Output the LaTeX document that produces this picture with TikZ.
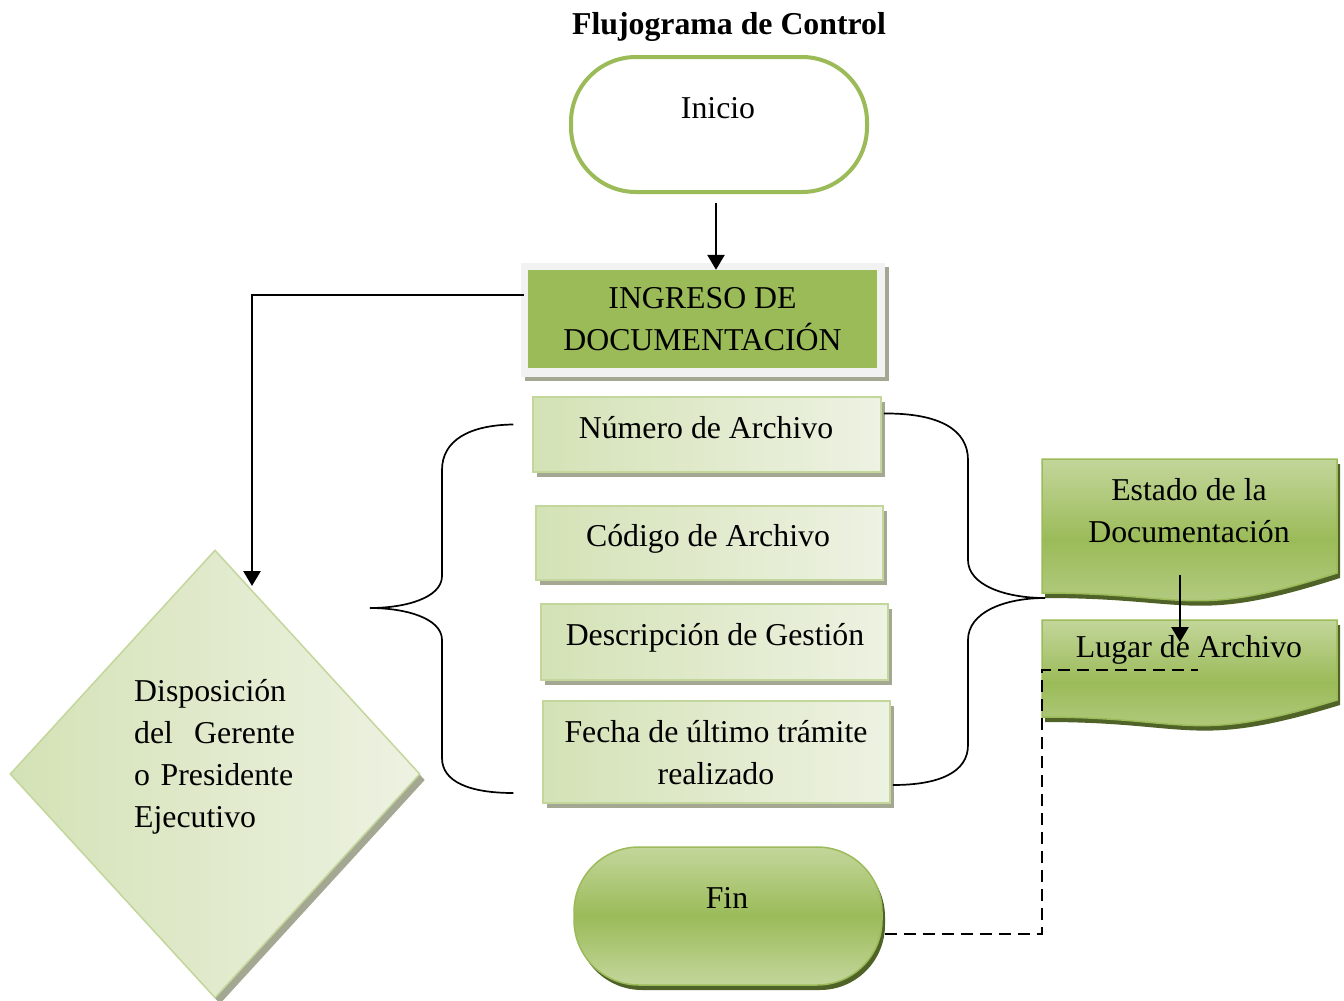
\documentclass[tikz,border=0pt]{standalone}
\usepackage{fontspec}
\setmainfont{Liberation Serif}
\usetikzlibrary{shapes.geometric,shadows,calc,arrows.meta}

\definecolor{gMain}{HTML}{9BBB59}
\definecolor{gLight}{HTML}{C3D69B}
\definecolor{gPale}{HTML}{D4E2B6}
\definecolor{gPaler}{HTML}{EDF2E2}
\definecolor{gDark}{HTML}{4F6228}
\definecolor{shGray}{HTML}{A4A893}
\definecolor{frameGray}{HTML}{F2F2F2}

\tikzset{
  big/.style={font=\fontsize{31.8}{42}\selectfont},
  txt/.style={big, inner sep=0pt, align=center},
  arr/.style={line width=2.7pt, -{Triangle[length=15pt,width=17pt]}},
  hline/.style={line width=1.7pt},
  brace/.style={line width=1.7pt},
  link/.style={line width=2pt, dash pattern=on 12pt off 7pt},
  field/.style={rectangle, draw=gLight, line width=1.5pt, left color=gPale, right color=gPaler,
    minimum height=75pt, inner sep=0pt,
    drop shadow={shadow xshift=4pt, shadow yshift=-5pt, fill=shGray, opacity=1}},
  terminal/.style={rectangle, rounded corners=65pt, inner sep=0pt},
  docfill/.style={top color=gLight, bottom color=gLight!75!gMain, middle color=gMain},
  docline/.style={draw=gMain, line width=1.5pt},
}

\begin{document}
\begin{tikzpicture}[x=1pt, y=-1pt]
\useasboundingbox (0,0) rectangle (1344,1001);

% title
\node[txt, font=\fontsize{31.8}{42}\selectfont\bfseries] (title) at (729,27) {Flujograma de Control};

% start terminal
\node[terminal, draw=gMain, line width=4pt, fill=white, minimum width=296pt, minimum height=135pt] (inicio) at (719,124.5) {};
\node[txt] (inicioT) at (718,108) {Inicio};

% document intake box: light frame with green panel
\node[rectangle, fill=frameGray, minimum width=364pt, minimum height=114pt, inner sep=0pt,
  drop shadow={shadow xshift=4pt, shadow yshift=-4pt, fill=shGray, opacity=1}] (ingreso) at (703,320) {};
\node[rectangle, fill=gMain, minimum width=349pt, minimum height=98pt, inner sep=0pt, txt] (ingresoIn) at (702.5,319) {INGRESO DE\\DOCUMENTACIÓN};

% record fields
\node[field, minimum width=348pt] (f1) at (707,434.5) {};
\node[field, minimum width=347pt, minimum height=74pt] (f2) at (709.5,543) {};
\node[field, minimum width=347pt, minimum height=76pt] (f3) at (714.5,642) {};
\node[field, minimum width=347pt, minimum height=102pt] (f4) at (716.5,752) {};
\node[txt] (f1T) at (706,428) {Número de Archivo};
\node[txt] (f2T) at (708,539) {Código de Archivo};
\node[txt] (f3T) at (715,638) {Descripción de Gestión};
\node[txt] (f4T) at (716,753) {Fecha de último trámite\\realizado};

% decision diamond
\node[diamond, draw=gLight, line width=1.5pt, left color=gPale, right color=gPaler,
  minimum width=410pt, minimum height=448pt, inner sep=0pt,
  drop shadow={shadow xshift=5pt, shadow yshift=-6pt, fill=shGray, opacity=1}] (disp) at (215,774) {};
\node[big, anchor=west, inner sep=0pt, text width=167pt, align=left] (dispT) at (134,757)
  {Disposición\\\makebox[167pt][s]{del\ \ Gerente}\\\makebox[167pt][s]{o Presidente}\\Ejecutivo};

% end terminal
\node[terminal, draw=gMain, line width=1.5pt, top color=gLight, bottom color=gLight, middle color=gMain,
  minimum width=308pt, minimum height=138pt,
  drop shadow={shadow xshift=3pt, shadow yshift=-5pt, fill=gDark, opacity=1}] (fin) at (728,916) {};
\node[txt] (finT) at (727,898) {Fin};

% document shapes on the right
\fill[gDark, xshift=3pt, yshift=-5pt] (1042,459) -- (1337,459) -- (1337,573) .. controls (1190,620) and (1190,593) .. (1042,593) -- cycle;
\shade[docfill] (1042,459) -- (1337,459) -- (1337,573) .. controls (1190,620) and (1190,593) .. (1042,593) -- cycle;
\draw[docline] (1042,459) -- (1337,459) -- (1337,573) .. controls (1190,620) and (1190,593) .. (1042,593) -- cycle;
\node[txt] (estadoT) at (1189,511) {Estado de la\\Documentación};

\fill[gDark, xshift=3pt, yshift=-5pt] (1042,620) -- (1337,620) -- (1337,700) .. controls (1190,745) and (1190,717) .. (1042,717) -- cycle;
\shade[docfill] (1042,620) -- (1337,620) -- (1337,700) .. controls (1190,745) and (1190,717) .. (1042,717) -- cycle;
\draw[docline] (1042,620) -- (1337,620) -- (1337,700) .. controls (1190,745) and (1190,717) .. (1042,717) -- cycle;
\node[txt] (lugarT) at (1189,650) {Lugar de Archivo};

% braces grouping the fields
\draw[brace] ($(f1.west)+(-19,-10)$) .. controls (470,425) and (442,440) .. (442,470) -- (442,576)
  .. controls (442,598) and (405,608) .. (370,608) coordinate (braceL)
  .. controls (405,608) and (442,618) .. (442,640) -- (442,758)
  .. controls (442,782) and (470,793) .. ($(f4.west)+(-29,41)$);
\draw[brace] ($(f1.east)+(2,-21)$) .. controls (940,413) and (968,430) .. (968,460) -- (968,560)
  .. controls (968,585) and (1005,598) .. (1045,598) coordinate (braceR)
  .. controls (1005,598) and (968,612) .. (968,640) -- (968,745)
  .. controls (968,772) and (940,785) .. ($(f4.east)+(2,33)$);

% connectors
\draw[arr] ($(inicio.south)+(-3,9)$) -- ($(ingreso.north)+(13,7)$);
\coordinate (corner) at (252,295);
\coordinate (dispIn) at (252,586);
\draw[hline] ($(ingreso.west)+(3,-25)$) -- ([xshift=-1.35pt]corner);
\draw[arr] ([yshift=0.85pt]corner) -- (dispIn);
\coordinate (estB) at (1180,575);
\coordinate (lugT) at (1180,642);
\draw[arr] (estB) -- (lugT);
\coordinate (lugD) at (1198,670);
\draw[link] ($(fin.east)+(2,18)$) -| (1042,670) -- (lugD);
\end{tikzpicture}
\end{document}
